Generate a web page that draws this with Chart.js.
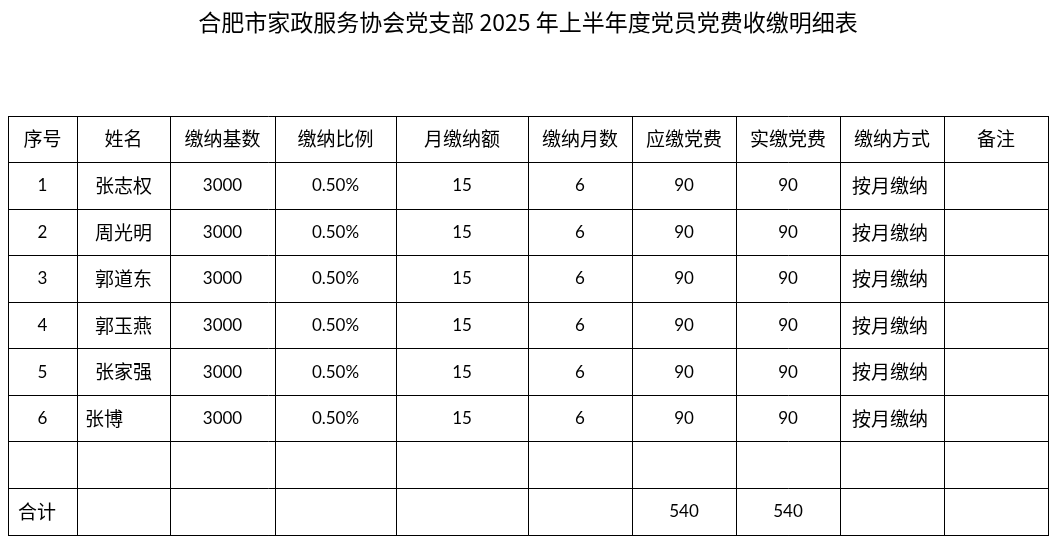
<!DOCTYPE html>
<html><head><meta charset="utf-8">
<script src="https://cdn.jsdelivr.net/npm/chart.js@4"></script>
<style>html,body{margin:0;padding:0;background:#fff}</style>
</head><body>
<canvas id="c" width="1056" height="546"></canvas>
<script>
const title = "合肥市家政服务协会党支部 2025 年上半年度党员党费收缴明细表";
const headers = ["序号","姓名","缴纳基数","缴纳比例","月缴纳额","缴纳月数","应缴党费","实缴党费","缴纳方式","备注"];
const ids = ["1","2","3","4","5","6"];
const names = ["张志权","周光明","郭道东","郭玉燕","张家强","张博"];
const bases = [3000,3000,3000,3000,3000,3000];
const ratios = ["0.50%","0.50%","0.50%","0.50%","0.50%","0.50%"];
const monthly = [15,15,15,15,15,15];
const months = [6,6,6,6,6,6];
const due = [90,90,90,90,90,90];
const paid = [90,90,90,90,90,90];
const methods = ["按月缴纳","按月缴纳","按月缴纳","按月缴纳","按月缴纳","按月缴纳"];
const totalLabel = "合计";
const totalDue = 540, totalPaid = 540;
const colEdges = [0,69,162,267,388,520,624,728,832,936,1040];
const rowCount = 9;

const CJK = '"Noto Sans CJK SC", sans-serif';
const NUM = 'Lato, "Noto Sans CJK SC", sans-serif';

const tablePlugin = {
  id:'tbl',
  afterDraw(chart){
    const ctx = chart.ctx, xs = chart.scales.x, ys = chart.scales.y;
    ctx.save();
    ctx.fillStyle = '#000';
    ctx.textBaseline = 'middle';
    ctx.textAlign = 'center';
    ctx.font = '23px ' + CJK;
    ctx.fillText(title, chart.width/2, 22);
    const cx = i => (xs.getPixelForValue(colEdges[i]) + xs.getPixelForValue(colEdges[i+1]))/2;
    const cy = r => ys.getPixelForValue(r + 0.5);
    const put = (t, i, r, font, dx) => { ctx.font = font; ctx.fillText(String(t), cx(i)+(dx||0), cy(r)); };
    headers.forEach((h,i)=>put(h,i,0,'19px '+CJK));
    for (let k=0;k<ids.length;k++){
      const r = k+1;
      put(ids[k],0,r,'17px '+NUM);
      if (names[k].length < 3) {
        ctx.textAlign='left'; ctx.font='19px '+CJK;
        ctx.fillText(names[k], xs.getPixelForValue(colEdges[1])+8, cy(r));
        ctx.textAlign='center';
      } else put(names[k],1,r,'19px '+CJK,0);
      put(bases[k],2,r,'17px '+NUM);
      put(ratios[k],3,r,'17px '+NUM);
      put(monthly[k],4,r,'17px '+NUM);
      put(months[k],5,r,'17px '+NUM);
      put(due[k],6,r,'17px '+NUM);
      put(paid[k],7,r,'17px '+NUM);
      put(methods[k],8,r,'19px '+CJK,-2);
    }
    ctx.textAlign='left';
    ctx.font = '19px '+CJK;
    ctx.fillText(totalLabel, xs.getPixelForValue(colEdges[0])+10, cy(8));
    ctx.textAlign='center';
    put(totalDue,6,8,'17px '+NUM);
    put(totalPaid,7,8,'17px '+NUM);
    ctx.restore();
  }
};

new Chart(document.getElementById('c'), {
  type:'scatter',
  data:{datasets:[{data:[]}]},
  options:{
    responsive:false, animation:false,
    layout:{padding:{left:8,right:8,top:116,bottom:11}},
    plugins:{legend:{display:false},tooltip:{enabled:false}},
    scales:{
      x:{type:'linear',min:0,max:1040,
        afterBuildTicks:s=>{s.ticks=colEdges.map(v=>({value:v}));},
        ticks:{display:false},
        grid:{color:'#000',lineWidth:1,drawTicks:false},
        border:{color:'#000'}},
      y:{type:'linear',min:0,max:rowCount,reverse:true,
        afterBuildTicks:s=>{s.ticks=Array.from({length:rowCount+1},(_,i)=>({value:i}));},
        ticks:{display:false},
        grid:{color:'#000',lineWidth:1,drawTicks:false},
        border:{color:'#000'}}
    }
  },
  plugins:[tablePlugin]
});
</script>
</body></html>
